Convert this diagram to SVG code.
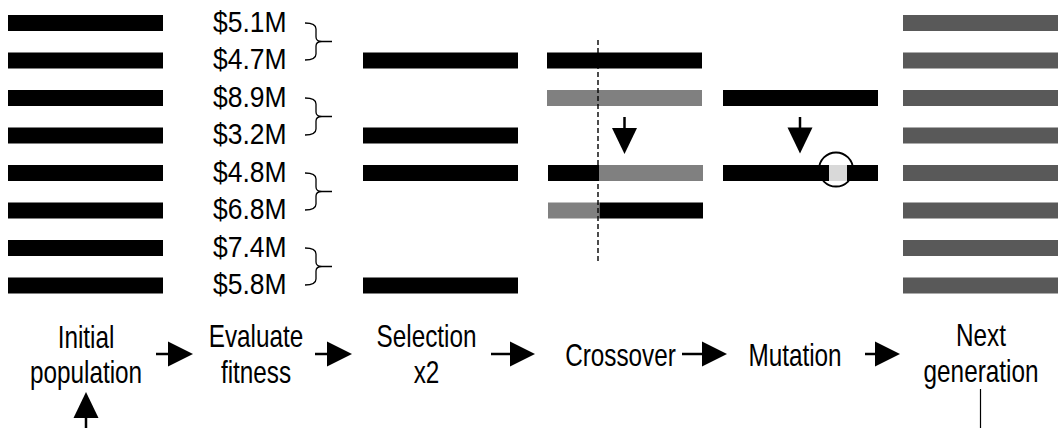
<svg xmlns="http://www.w3.org/2000/svg" width="1062" height="428" viewBox="0 0 1062 428">
  <style>
    .lbl { font-family: "Liberation Sans", Arial, sans-serif; font-size: 26.5px; fill: #000; }
    .stage { font-family: "Liberation Sans", Arial, sans-serif; font-size: 24.3px; fill: #000; text-anchor: middle; }
    .blk { fill: #000; }
    .gry { fill: #808080; }
    .nxt { fill: #595959; }
    .brace { fill: none; stroke: #000; stroke-width: 1.3; }
    .shaft { stroke: #000; stroke-width: 2.5; fill: none; }
    .head { fill: #000; }
  </style>
  <defs>
    <!-- one chromosome bar -->
    <rect id="bar" width="155" height="16"/>
    <!-- curly bracket pairing two fitness values -->
    <path id="brace" class="brace" d="M305,0 Q316,0 316,6 L316,14 Q316,18.5 322,18.5 L332,18.5 M322,18.5 Q316,18.5 316,23 L316,31 Q316,37 305,37"/>
    <!-- right-pointing arrowhead, tip at origin -->
    <polygon id="headR" points="-25,-12.5 0,0 -25,12.5"/>
    <!-- down-pointing arrowhead, tip at origin -->
    <polygon id="headD" points="-12.5,-26 12.5,-26 0,0"/>
  </defs>

  <!-- Initial population -->
  <g id="initial-population">
    <use href="#bar" class="blk" x="8" y="15"/>
    <use href="#bar" class="blk" x="8" y="52.5"/>
    <use href="#bar" class="blk" x="8" y="90"/>
    <use href="#bar" class="blk" x="8" y="127.5"/>
    <use href="#bar" class="blk" x="8" y="165"/>
    <use href="#bar" class="blk" x="8" y="202.5"/>
    <use href="#bar" class="blk" x="8" y="240"/>
    <use href="#bar" class="blk" x="8" y="277.5"/>
    <text class="stage" transform="translate(86,348) scale(1,1.28)"><tspan x="0" y="0">Initial</tspan><tspan x="0" y="27.4">population</tspan></text>
  </g>

  <!-- Evaluate fitness -->
  <g id="evaluate-fitness">
    <g class="lbl">
      <text transform="translate(213,31.5) scale(1,1.08)">$5.1M</text>
      <text transform="translate(213,69) scale(1,1.08)">$4.7M</text>
      <text transform="translate(213,106.5) scale(1,1.08)">$8.9M</text>
      <text transform="translate(213,144) scale(1,1.08)">$3.2M</text>
      <text transform="translate(213,181.5) scale(1,1.08)">$4.8M</text>
      <text transform="translate(213,219) scale(1,1.08)">$6.8M</text>
      <text transform="translate(213,256.5) scale(1,1.08)">$7.4M</text>
      <text transform="translate(213,294) scale(1,1.08)">$5.8M</text>
    </g>
    <use href="#brace" y="23"/>
    <use href="#brace" y="98"/>
    <use href="#brace" y="173"/>
    <use href="#brace" y="248"/>
    <text class="stage" transform="translate(256,347) scale(1,1.28)"><tspan x="0" y="0">Evaluate</tspan><tspan x="0" y="28.1">fitness</tspan></text>
  </g>

  <!-- Selection x2 -->
  <g id="selection">
    <use href="#bar" class="blk" x="363" y="52.5"/>
    <use href="#bar" class="blk" x="363" y="127.5"/>
    <use href="#bar" class="blk" x="363" y="165"/>
    <use href="#bar" class="blk" x="363" y="277.5"/>
    <text class="stage" transform="translate(426.5,347) scale(1,1.28)"><tspan x="0" y="0">Selection</tspan><tspan x="0" y="28.1">x2</tspan></text>
  </g>

  <!-- Crossover -->
  <g id="crossover">
    <use href="#bar" class="blk" x="547" y="52.5"/>
    <use href="#bar" class="gry" x="547" y="90"/>
    <rect class="blk" x="548" y="165" width="51.5" height="16"/>
    <rect class="gry" x="599.5" y="165" width="103.5" height="16"/>
    <rect class="gry" x="548" y="202.5" width="51.5" height="16"/>
    <rect class="blk" x="599.5" y="202.5" width="103.5" height="16"/>
    <line x1="598" y1="40" x2="598" y2="262" stroke="#000" stroke-width="1.4" stroke-dasharray="5,3"/>
    <line class="shaft" x1="624.5" y1="117" x2="624.5" y2="130"/>
    <use href="#headD" class="head" x="624.5" y="154"/>
    <text class="stage" transform="translate(620.5,365.5) scale(1,1.28)">Crossover</text>
  </g>

  <!-- Mutation -->
  <g id="mutation">
    <rect class="blk" x="723" y="90" width="155" height="16"/>
    <rect class="blk" x="723" y="165" width="155" height="16"/>
    <rect fill="#d9d9d9" x="829" y="165" width="18" height="16"/>
    <circle cx="836" cy="169.5" r="17" fill="none" stroke="#000" stroke-width="1.8"/>
    <line class="shaft" x1="800" y1="117" x2="800" y2="130"/>
    <use href="#headD" class="head" x="800" y="153.5"/>
    <text class="stage" transform="translate(795,365.5) scale(1,1.28)">Mutation</text>
  </g>

  <!-- Next generation -->
  <g id="next-generation">
    <use href="#bar" class="nxt" x="903" y="15"/>
    <use href="#bar" class="nxt" x="903" y="52.5"/>
    <use href="#bar" class="nxt" x="903" y="90"/>
    <use href="#bar" class="nxt" x="903" y="127.5"/>
    <use href="#bar" class="nxt" x="903" y="165"/>
    <use href="#bar" class="nxt" x="903" y="202.5"/>
    <use href="#bar" class="nxt" x="903" y="240"/>
    <use href="#bar" class="nxt" x="903" y="277.5"/>
    <text class="stage" transform="translate(981,346) scale(1,1.28)"><tspan x="0" y="0">Next</tspan><tspan x="0" y="28.1">generation</tspan></text>
  </g>

  <!-- Flow connectors -->
  <g id="connectors">
    <line class="shaft" x1="156" y1="354" x2="170" y2="354"/>
    <use href="#headR" class="head" x="193" y="354"/>
    <line class="shaft" x1="315" y1="354" x2="330" y2="354"/>
    <use href="#headR" class="head" x="352" y="354"/>
    <line class="shaft" x1="491" y1="354" x2="512" y2="354"/>
    <use href="#headR" class="head" x="535" y="354"/>
    <line class="shaft" x1="682" y1="354" x2="704" y2="354"/>
    <use href="#headR" class="head" x="727" y="354"/>
    <line class="shaft" x1="865" y1="354" x2="877" y2="354"/>
    <use href="#headR" class="head" x="900" y="354"/>
    <!-- loop back from next generation into the population -->
    <line x1="980.5" y1="389" x2="980.5" y2="428" stroke="#000" stroke-width="1.2"/>
    <line class="shaft" x1="86" y1="406" x2="86" y2="428"/>
    <use href="#headD" class="head" transform="translate(86,392) rotate(180)"/>
  </g>
</svg>
